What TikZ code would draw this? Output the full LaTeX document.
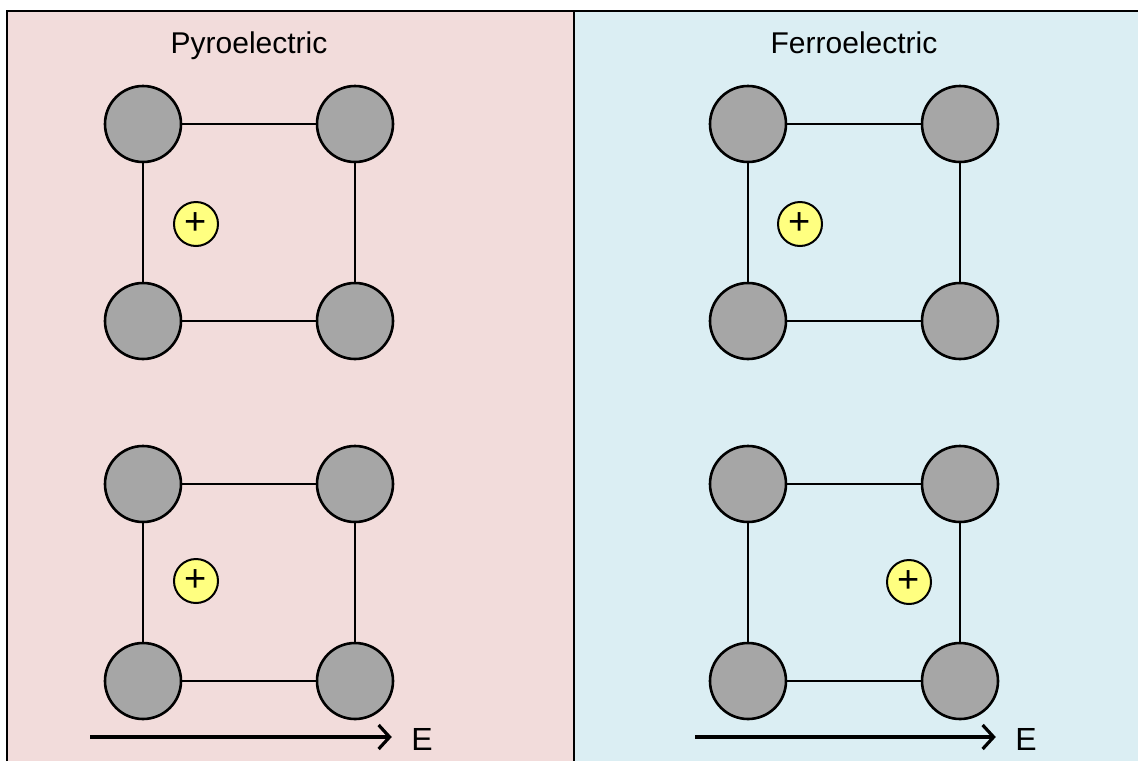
\documentclass[tikz,border=0pt]{standalone}
\usepackage{fontspec}
\setmainfont{Liberation Sans}
\usetikzlibrary{arrows.meta}
\definecolor{pinkbg}{RGB}{242,220,219}
\definecolor{bluebg}{RGB}{219,238,243}
\definecolor{atomgray}{RGB}{166,166,166}
\definecolor{ionyellow}{RGB}{255,255,128}
\tikzset{
  atom/.style={circle, draw=black, line width=2.6pt, fill=atomgray, minimum size=76pt, inner sep=0pt},
  ion/.style={circle, draw=black, line width=2pt, fill=ionyellow, minimum size=44pt, inner sep=0pt, font=\fontsize{38}{38}\selectfont},
  bond/.style={line width=2pt, draw=black},
  title/.style={font=\fontsize{30}{34}\selectfont, anchor=base},
  field/.style={line width=3.2pt, -{Straight Barb[length=11pt,width=24pt,line width=3.2pt]}},
  flabel/.style={font=\fontsize{32}{34}\selectfont}
}
\begin{document}
\begin{tikzpicture}[x=1pt,y=-1pt]
\useasboundingbox (0,0) rectangle (1138,761);
\fill[white] (0,0) rectangle (1138,761);
% panels
\fill[pinkbg] (7,11) rectangle (574,761);
\fill[bluebg] (574,11) rectangle (1138,761);
\draw[line width=1.8pt] (7,761) -- (7,11) -- (1138,11);
\draw[line width=2.4pt] (574,11) -- (574,761);
% titles
\node[title] (t1) at (249,53) {Pyroelectric};
\node[title] (t2) at (854,53) {Ferroelectric};
% left upper cell
\node[atom] (a1) at (143,124) {};
\node[atom] (a2) at (355,124) {};
\node[atom] (a3) at (143,321) {};
\node[atom] (a4) at (355,321) {};
\node[ion] (i1) at (196,224) {+};
% left lower cell
\node[atom] (b1) at (143,484) {};
\node[atom] (b2) at (355,484) {};
\node[atom] (b3) at (143,681) {};
\node[atom] (b4) at (355,681) {};
\node[ion] (i2) at (196,581) {+};
% right upper cell
\node[atom] (c1) at (748,124) {};
\node[atom] (c2) at (960,124) {};
\node[atom] (c3) at (748,321) {};
\node[atom] (c4) at (960,321) {};
\node[ion] (i3) at (800,224) {+};
% right lower cell
\node[atom] (d1) at (748,484) {};
\node[atom] (d2) at (960,484) {};
\node[atom] (d3) at (748,681) {};
\node[atom] (d4) at (960,681) {};
\node[ion] (i4) at (909,582) {+};
% bonds
\foreach \p in {a,b,c,d}{
  \draw[bond] (\p1) -- (\p2);
  \draw[bond] (\p3) -- (\p4);
  \draw[bond] (\p1) -- (\p3);
  \draw[bond] (\p2) -- (\p4);
}
% field arrows
\coordinate (e1s) at (90,737);
\node[flabel] (e1) at (422,739) {E};
\draw[field] (e1s) -- ([xshift=-16pt]e1.west |- e1s);
\coordinate (e2s) at (695,737);
\node[flabel] (e2) at (1026,739) {E};
\draw[field] (e2s) -- ([xshift=-16pt]e2.west |- e2s);
\end{tikzpicture}
\end{document}
